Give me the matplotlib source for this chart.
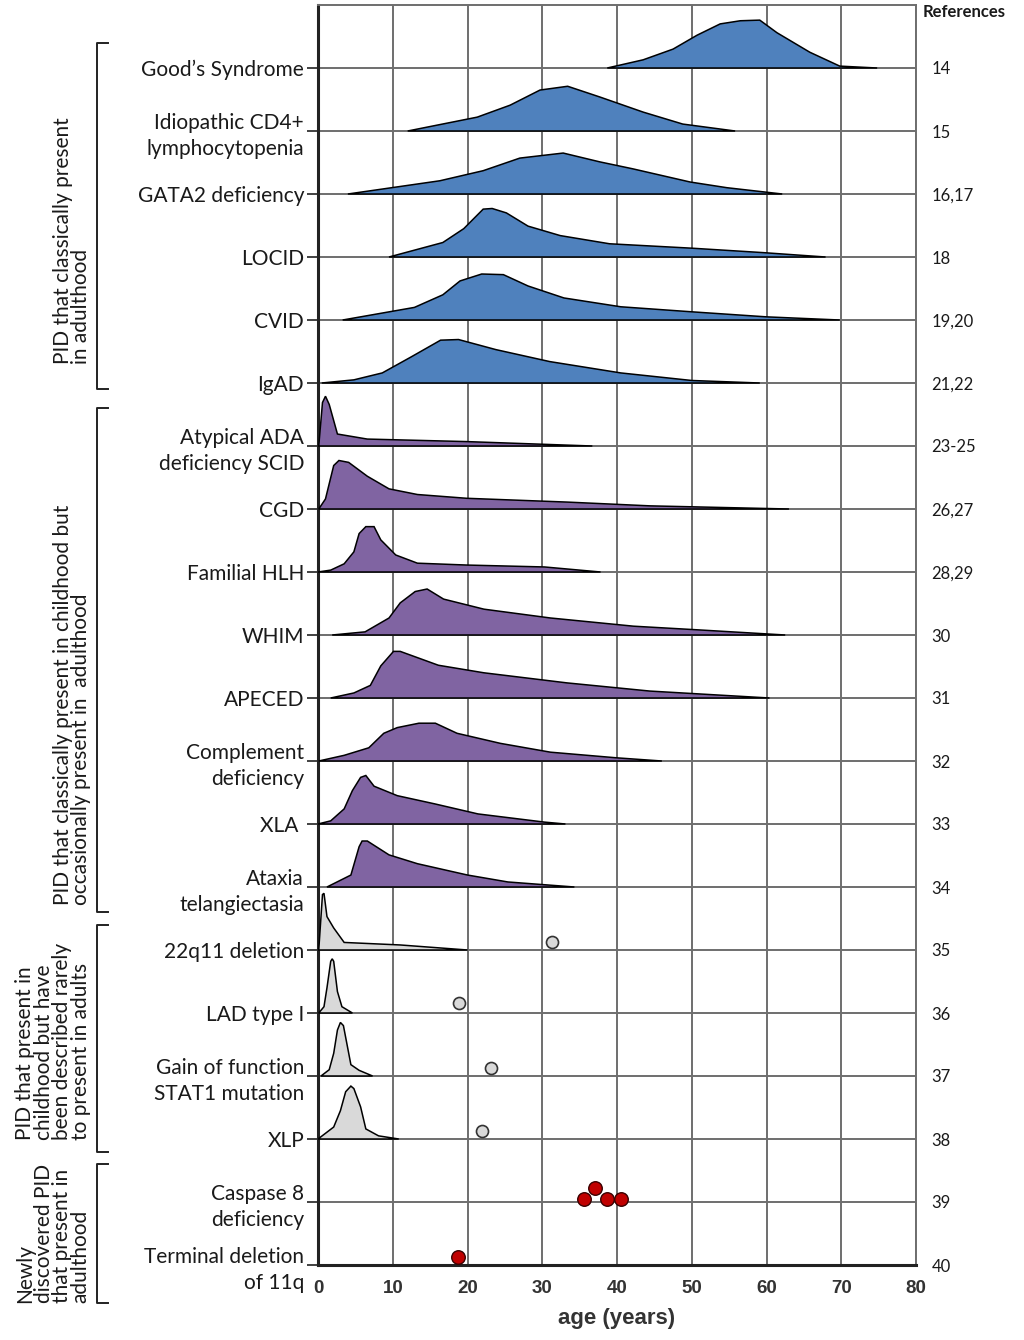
import numpy as np
import matplotlib
matplotlib.use("Agg")
import matplotlib.pyplot as plt
import matplotlib.transforms as mtransforms
from matplotlib.lines import Line2D

plt.rcParams['font.family'] = ['Lato', 'DejaVu Sans']

# rows, top to bottom
labels = ["Good\u2019s Syndrome", "Idiopathic CD4+\nlymphocytopenia", "GATA2 deficiency",
          "LOCID", "CVID", "IgAD", "Atypical ADA\ndeficiency SCID", "CGD", "Familial HLH",
          "WHIM", "APECED", "Complement\ndeficiency", "XLA ", "Ataxia\ntelangiectasia",
          "22q11 deletion", "LAD type I", "Gain of function\nSTAT1 mutation", "XLP",
          "Caspase 8\ndeficiency", "Terminal deletion\nof 11q"]
refs = ["14", "15", "16,17", "18", "19,20", "21,22", "23-25", "26,27", "28,29", "30",
        "31", "32", "33", "34", "35", "36", "37", "38", "39", "40"]

# age (years) / height (fraction of row)
goods_age = [38.7, 43.5, 47.5, 50.7, 53.8, 56.5, 59.1, 61.4, 65.8, 69.8, 74.8]
goods_h = [0, 0.13, 0.30, 0.52, 0.70, 0.75, 0.76, 0.56, 0.25, 0.03, 0]
cd4_age = [12.0, 21.3, 25.7, 29.7, 33.4, 37.7, 43.5, 48.8, 55.8]
cd4_h = [0, 0.22, 0.41, 0.65, 0.71, 0.54, 0.30, 0.11, 0]
gata2_age = [4.0, 16.3, 22.1, 27.0, 32.8, 37.7, 42.1, 49.8, 54.7, 62.1]
gata2_h = [0, 0.21, 0.37, 0.57, 0.65, 0.51, 0.40, 0.19, 0.10, 0]
locid_age = [9.5, 16.7, 19.5, 22.1, 23.3, 25.2, 28.1, 32.4, 39.0, 50.0, 59.5, 67.9]
locid_h = [0, 0.23, 0.45, 0.76, 0.77, 0.70, 0.49, 0.34, 0.21, 0.14, 0.07, 0]
cvid_age = [3.3, 12.9, 16.7, 19.0, 21.9, 24.8, 28.1, 32.9, 40.5, 50.0, 60.0, 69.8]
cvid_h = [0, 0.20, 0.40, 0.62, 0.73, 0.72, 0.54, 0.35, 0.21, 0.13, 0.05, 0]
igad_age = [0.5, 4.8, 8.6, 12.4, 16.4, 18.8, 23.8, 31.0, 40.5, 50.0, 59.1]
igad_h = [0, 0.05, 0.16, 0.41, 0.68, 0.69, 0.53, 0.34, 0.16, 0.04, 0]
ada_age = [0.1, 0.6, 1.0, 1.5, 2.6, 6.6, 19.9, 36.7]
ada_h = [0, 0.69, 0.79, 0.66, 0.19, 0.11, 0.07, 0]
cgd_age = [0.1, 1.0, 2.1, 2.8, 4.1, 6.6, 9.5, 13.3, 19.9, 33.3, 44.4, 63.0]
cgd_h = [0, 0.16, 0.69, 0.77, 0.74, 0.52, 0.32, 0.23, 0.17, 0.11, 0.05, 0]
hlh_age = [0, 1.7, 3.5, 4.8, 5.5, 6.4, 7.5, 8.4, 10.4, 13.3, 20.0, 30.3, 37.8]
hlh_h = [0, 0.03, 0.13, 0.32, 0.61, 0.72, 0.72, 0.51, 0.27, 0.14, 0.11, 0.08, 0]
whim_age = [1.9, 6.3, 9.5, 11.0, 13.0, 14.6, 16.8, 22.2, 31.1, 42.2, 51.1, 62.5]
whim_h = [0, 0.05, 0.27, 0.51, 0.69, 0.73, 0.57, 0.41, 0.27, 0.14, 0.08, 0]
apeced_age = [1.7, 4.8, 7.0, 8.4, 10.1, 11.0, 16.1, 22.2, 33.3, 44.4, 60.4]
apeced_h = [0, 0.08, 0.20, 0.51, 0.74, 0.74, 0.52, 0.40, 0.24, 0.11, 0]
compl_age = [0.1, 3.5, 6.8, 8.8, 10.6, 13.5, 15.7, 18.6, 24.4, 31.1, 40.0, 46.0]
compl_h = [0, 0.09, 0.21, 0.44, 0.53, 0.60, 0.60, 0.44, 0.28, 0.14, 0.05, 0]
xla_age = [0, 1.7, 3.5, 4.6, 5.7, 6.4, 7.5, 10.6, 15.6, 21.4, 30.3, 33.1]
xla_h = [0, 0.05, 0.24, 0.53, 0.74, 0.77, 0.60, 0.45, 0.32, 0.16, 0.03, 0]
ataxia_age = [1.2, 4.4, 5.5, 5.9, 6.6, 9.5, 13.3, 20.0, 25.4, 34.3]
ataxia_h = [0, 0.19, 0.64, 0.73, 0.73, 0.51, 0.37, 0.19, 0.08, 0]
q22_age = [0.1, 0.6, 0.8, 1.2, 2.1, 3.5, 11.0, 20.0]
q22_h = [0, 0.88, 0.90, 0.53, 0.35, 0.12, 0.08, 0]
lad_age = [0.1, 0.8, 1.2, 1.7, 1.9, 2.1, 2.6, 3.2, 4.6]
lad_h = [0, 0.10, 0.40, 0.82, 0.86, 0.82, 0.34, 0.10, 0]
stat1_age = [0.4, 1.5, 2.1, 2.6, 3.0, 3.4, 4.4, 5.5, 7.3]
stat1_h = [0, 0.10, 0.36, 0.73, 0.85, 0.80, 0.18, 0.09, 0]
xlp_age = [0, 2.1, 3.0, 3.7, 4.4, 4.8, 5.7, 6.4, 8.1, 10.8]
xlp_h = [0, 0.19, 0.45, 0.75, 0.84, 0.80, 0.51, 0.16, 0.05, 0]

ridges = [(goods_age, goods_h), (cd4_age, cd4_h), (gata2_age, gata2_h), (locid_age, locid_h),
          (cvid_age, cvid_h), (igad_age, igad_h), (ada_age, ada_h), (cgd_age, cgd_h),
          (hlh_age, hlh_h), (whim_age, whim_h), (apeced_age, apeced_h), (compl_age, compl_h),
          (xla_age, xla_h), (ataxia_age, ataxia_h), (q22_age, q22_h), (lad_age, lad_h),
          (stat1_age, stat1_h), (xlp_age, xlp_h)]
ridge_colors = ["#4F81BD"] * 6 + ["#8064A2"] * 8 + ["#D9D9D9"] * 4

# single case reports (row index, age, height above row line)
gray_row = [14, 15, 16, 17]
gray_age = [31.3, 18.8, 23.1, 21.9]
gray_h = [0.12, 0.16, 0.13, 0.13]
red_row = [18, 18, 18, 18, 19]
red_age = [35.6, 37.1, 38.7, 40.6, 18.7]
red_h = [0.05, 0.22, 0.05, 0.05, 0.13]

groups = ["PID that classically present\nin adulthood",
          "PID that classically present in childhood but\noccasionally present in  adulthood",
          "PID that present in\nchildhood but have\nbeen described rarely\nto present in adults",
          "Newly\ndiscovered PID\nthat present in\nadulthood"]
# bracket top/bottom and label anchor (x axes fraction, y data)
bracket_span = [(19.4, 13.9), (13.6, 5.6), (5.4, 1.8), (1.6, -0.6)]
group_text_x = [-0.411, -0.411, -0.443, -0.443]
group_text_y = [14.3, 5.71, 1.98, -0.6]

n = len(labels)
ypos = [n - 1 - i for i in range(n)]

fig = plt.figure(figsize=(10.24, 13.40), dpi=100)
ax = fig.add_axes([318 / 1024, 1 - 1265 / 1340, 598 / 1024, 1260 / 1340])
ax.set_xlim(0, 80)
ax.set_ylim(0, 20)

gridc = "#6e6e6e"
ax.set_xticks(range(0, 81, 10))
ax.set_yticks(ypos)
ax.set_yticklabels(labels, fontsize=15, color="#1a1a1a")
for lab in ax.get_yticklabels():
    lab.set_linespacing(1.35)
ax.grid(True, color=gridc, lw=1.4)
ax.set_axisbelow(True)
ax.tick_params(axis="x", length=0, pad=11)
ax.tick_params(axis="y", length=8, width=1.3, color="#333333", pad=2)
for lab in ax.get_xticklabels():
    lab.set_fontfamily("Liberation Sans")
    lab.set_fontweight("bold")
    lab.set_fontsize(13.5)
    lab.set_color("#333333")
ax.set_xlabel("age (years)", fontfamily="Liberation Sans", fontweight="bold",
              fontsize=16, color="#333333", labelpad=8)
for s in ["left", "bottom"]:
    ax.spines[s].set_linewidth(2.2)
    ax.spines[s].set_color("#222222")
for s in ["top", "right"]:
    ax.spines[s].set_linewidth(1.4)
    ax.spines[s].set_color(gridc)

for i, ((age, h), col) in enumerate(zip(ridges, ridge_colors)):
    y0 = ypos[i]
    ax.fill(age, y0 + np.array(h), fc=col, ec="black", lw=1.1, zorder=3)

ax.scatter(gray_age, [ypos[r] + hh for r, hh in zip(gray_row, gray_h)], s=75,
           fc="#D9D9D9", ec="#333333", lw=1.2, zorder=4, clip_on=False)
ax.scatter(red_age, [ypos[r] + hh for r, hh in zip(red_row, red_h)], s=95,
           fc="#C00000", ec="#3a0000", lw=1.0, zorder=4, clip_on=False)

# references on the right
ax2 = ax.twinx()
ax2.set_ylim(0, 20)
ax2.set_yticks(ypos)
ax2.set_yticklabels(refs, fontsize=12, color="#1a1a1a")
ax2.tick_params(axis="y", length=0, pad=11)
for s in ax2.spines.values():
    s.set_visible(False)
ax.text(1.011, 19.89, "References", transform=ax.get_yaxis_transform(), ha="left",
        va="center", fontsize=12, fontweight="bold", color="#1a1a1a")

# group brackets
trans = mtransforms.blended_transform_factory(ax.transAxes, ax.transData)
bx, bs = -0.3696, -0.351
for (top, bot), txt, tx, ty in zip(bracket_span, groups, group_text_x, group_text_y):
    ln = Line2D([bs, bx, bx, bs], [top, top, bot, bot], transform=trans,
                color="#222222", lw=1.4, clip_on=False)
    ax.add_line(ln)
    ax.text(tx, ty, txt, transform=trans, rotation=90, ha="center", va="bottom",
            multialignment="left", fontsize=15, linespacing=0.9, color="#1a1a1a",
            clip_on=False)

fig.savefig("out.png", dpi=100)
